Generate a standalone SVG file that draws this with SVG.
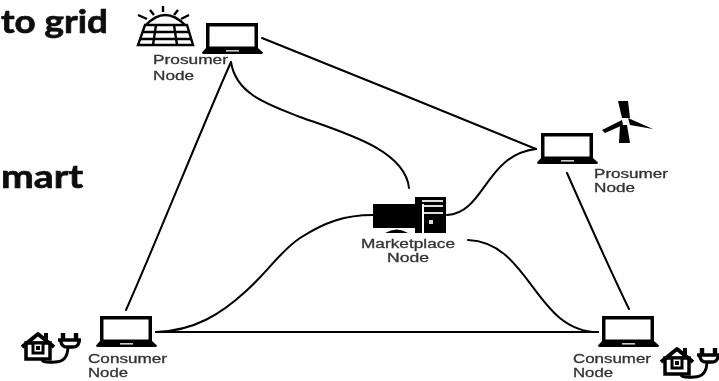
<svg xmlns="http://www.w3.org/2000/svg" width="719" height="381" viewBox="0 0 719 381">
<style>
.head{font-family:Lato,"Liberation Sans",sans-serif;font-weight:700;font-size:33px;fill:#111;stroke:#111;stroke-width:.7}
.lab{font-family:"Liberation Sans",Arial,sans-serif;font-size:12.5px;fill:#333;stroke:#333;stroke-width:.3}
.c{fill:none;stroke:#000;stroke-width:2;stroke-linecap:round}
</style>
<defs>
<filter id="soft" x="-2%" y="-2%" width="104%" height="104%"><feGaussianBlur stdDeviation="0.4"/></filter>
<g id="laptop">
<path d="M4 0H56V27H4Z" fill="#000"/>
<rect x="7.5" y="3.500" width="45" height="20" fill="#fff"/>
<path d="M4 25H56L61 29.500Q61 31 59 31H2Q0 31 0 29.500Z" fill="#000"/>
<rect x="24" y="27" width="13" height="1.6" fill="#ccc"/>
</g>
<g id="home">
<path d="M5 11H29V27H5Z" fill="#fff" stroke="#000" stroke-width="3.500"/>
<path d="M1 15L17 2L33 15" fill="none" stroke="#000" stroke-width="4" stroke-linejoin="round"/>
<rect x="23" y="1" width="4" height="8" fill="#000"/>
<rect x="12" y="11" width="10" height="10" fill="#fff" stroke="#000" stroke-width="3"/>
<rect x="15" y="14" width="4" height="4" fill="#000"/>
<path d="M21 28Q22 31 34 30Q47 30 47 14" fill="none" stroke="#000" stroke-width="2.800"/>
<path d="M37 8H60M40 8V10Q41 15 46 15H52Q57 15 58 10V8" fill="#fff" stroke="#000" stroke-width="3.400"/>
<path d="M42 1V8M55 1V8" stroke="#000" stroke-width="4.400"/>
</g>
</defs>
<g filter="url(#soft)">
<text class="head" x="1" y="33" textLength="107" lengthAdjust="spacingAndGlyphs">to grid</text>
<text class="head" x="1" y="188" textLength="82" lengthAdjust="spacingAndGlyphs">mart</text>
<g id="connectors">
<path class="c" d="M262 38C330 65 470 122 536 149"/>
<path class="c" d="M231 62C205 120 155 245 126 310"/>
<path class="c" d="M231 62C236 95 270 105 300 117C345 133 405 150 409 188"/>
<path class="c" d="M156 332C195 331 222 313 245 292C270 270 278 253 300 238C325 222 345 215 373 215"/>
<path class="c" d="M447 215C485 213 485 155 536 149"/>
<path class="c" d="M567 173C590 225 610 270 629 309"/>
<path class="c" d="M468 240C530 242 535 332 598 332"/>
<path class="c" d="M156 332H598"/>
</g>
<g id="prosumer-1">
<g stroke="#000" fill="none" stroke-width="2.400">
<path d="M146 25Q165 5 185 25"/>
<path d="M145 25H187L193 45H138Z" fill="#fff"/>
<path d="M142 32H190M140 39H192M156 25L153 45M174 25L177 45"/>
<path d="M163 6V12M150 10L154 15M178 10L174 15M138 15L147 19M189 15L181 19"/>
</g>
<use href="#laptop" x="202" y="23"/>
<text class="lab" x="153" y="64" textLength="75" lengthAdjust="spacingAndGlyphs">Prosumer</text>
<text class="lab" x="153" y="80" textLength="41" lengthAdjust="spacingAndGlyphs">Node</text>
</g>
<g id="prosumer-2">
<path d="M618 101H628L630 118H622Z M602 130L622 120L623 125L605 133Z M628 118L653 129L630 125Z M620 125H627L630 143H619Z" fill="#000"/>
<use href="#laptop" x="537" y="133"/>
<text class="lab" x="594" y="178" textLength="74" lengthAdjust="spacingAndGlyphs">Prosumer</text>
<text class="lab" x="594" y="192" textLength="41" lengthAdjust="spacingAndGlyphs">Node</text>
</g>
<g id="marketplace">
<rect x="415" y="197" width="31" height="36" fill="#000"/>
<path d="M385 233Q397 226 408 233Z" fill="#000"/>
<rect x="422" y="200" width="21" height="2" fill="#ddd"/>
<rect x="422" y="205" width="21" height="2" fill="#ddd"/>
<rect x="422" y="212" width="21" height="2" fill="#ddd"/>
<rect x="422" y="204" width="2" height="29" fill="#fff"/>
<rect x="429" y="220" width="4" height="4" fill="#ddd"/>
<rect x="373" y="204" width="49" height="24" fill="#000"/>
<text class="lab" x="361" y="248" textLength="94" lengthAdjust="spacingAndGlyphs">Marketplace</text>
<text class="lab" x="387" y="262" textLength="42" lengthAdjust="spacingAndGlyphs">Node</text>
</g>
<g id="consumer-1">
<use href="#home" x="21" y="332"/>
<use href="#laptop" x="96" y="316"/>
<text class="lab" x="88" y="363" textLength="79" lengthAdjust="spacingAndGlyphs">Consumer</text>
<text class="lab" x="88" y="377" textLength="40" lengthAdjust="spacingAndGlyphs">Node</text>
</g>
<g id="consumer-2">
<use href="#laptop" x="598" y="316"/>
<use href="#home" x="660" y="347"/>
<text class="lab" x="573" y="363" textLength="78" lengthAdjust="spacingAndGlyphs">Consumer</text>
<text class="lab" x="573" y="377" textLength="40" lengthAdjust="spacingAndGlyphs">Node</text>
</g>
</g>
</svg>
